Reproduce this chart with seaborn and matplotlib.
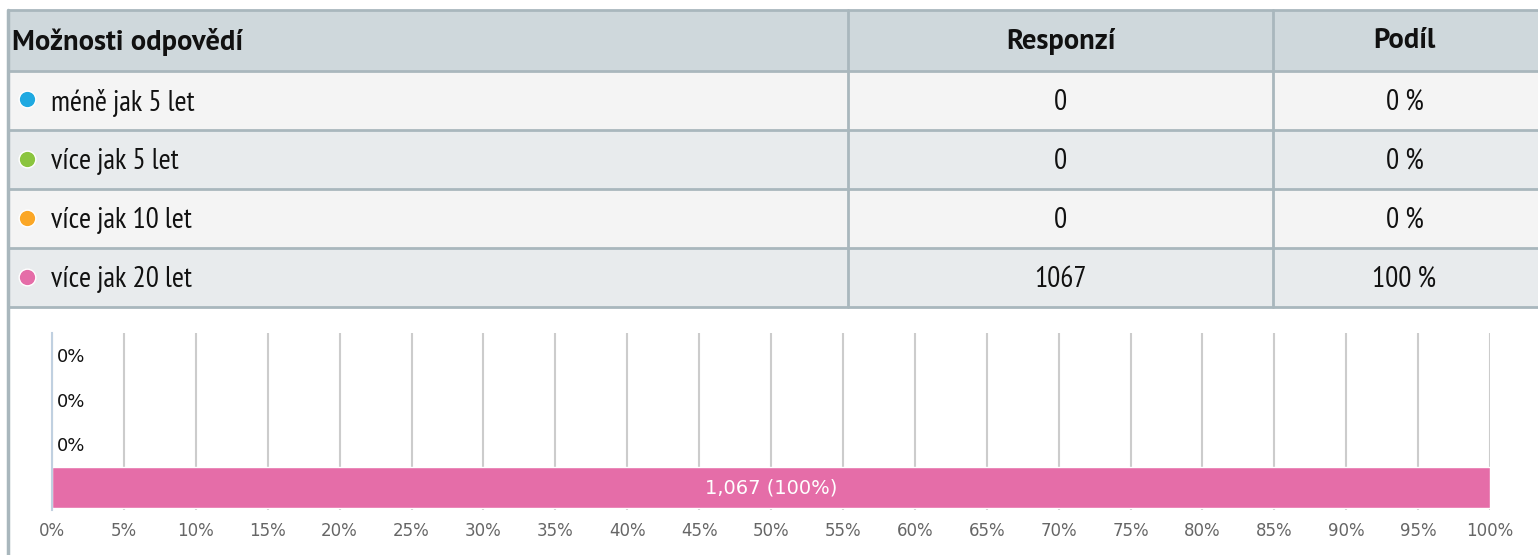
import matplotlib
matplotlib.use("Agg")
import matplotlib.pyplot as plt
import seaborn as sns
import pandas as pd
from matplotlib.patches import Rectangle

# =========================
# Data
# =========================
categories = ["méně jak 5 let", "více jak 5 let", "více jak 10 let", "více jak 20 let"]
responses = [0, 0, 0, 1067]
shares = [0, 0, 0, 100]
colors = ["#1fa9e1", "#8bc53f", "#fba726", "#e56da8"]
headers = ["Možnosti odpovědí", "Responzí", "Podíl"]
x_ticks = list(range(0, 101, 5))

df = pd.DataFrame({"category": categories, "responses": responses, "share": shares})

W, H = 1538, 555
sns.set_theme(style="white")
plt.rcParams["font.family"] = ["DejaVu Sans"]
TABLE_FONT = dict(family=["PT Sans Narrow", "DejaVu Sans"], fontstretch="condensed")
HEADER_FONT = dict(family=["PT Sans", "PT Sans Narrow", "DejaVu Sans"], fontweight="bold")

fig = plt.figure(figsize=(W / 100, H / 100), dpi=100)
fig.patch.set_facecolor("white")


def px(x, y):
    # pixel coords (top-left origin) -> figure fraction
    return x / W, 1 - y / H


# =========================
# Table
# =========================
border = "#a9b7bd"
col_edges = [8, 848, 1273, 1540]
row_edges = [10, 71, 130, 189, 248, 307]
row_fill = ["#cfd8dc", "#f4f4f4", "#e8ebed", "#f4f4f4", "#e8ebed"]

for i in range(5):
    y0, y1 = row_edges[i], row_edges[i + 1]
    fig.patches.append(Rectangle(px(col_edges[0], y1), (col_edges[-1] - col_edges[0]) / W,
                                 (y1 - y0) / H, transform=fig.transFigure,
                                 facecolor=row_fill[i], edgecolor="none", zorder=0))

for y in row_edges:
    fig.add_artist(plt.Line2D([col_edges[0] / W, 1], [1 - y / H] * 2,
                              transform=fig.transFigure, color=border, lw=2))
for x in col_edges[1:3]:
    fig.add_artist(plt.Line2D([x / W] * 2, [1 - row_edges[0] / H, 1 - row_edges[-1] / H],
                              transform=fig.transFigure, color=border, lw=2))
# outer left border runs down through the chart panel
fig.add_artist(plt.Line2D([col_edges[0] / W] * 2, [1 - row_edges[0] / H, 0],
                          transform=fig.transFigure, color=border, lw=2.5))

col2_x = (col_edges[1] + col_edges[2]) / 2
col3_x = (col_edges[2] + col_edges[3]) / 2 - 2

hy = (row_edges[0] + row_edges[1]) / 2 + 1
for hx, txt, ha in [(12, headers[0], "left"), (col2_x, headers[1], "center"),
                    (col3_x, headers[2], "center")]:
    fig.text(*px(hx, hy), txt, ha=ha, va="center", fontsize=20.5, color="#111111",
             **HEADER_FONT)

for i, (cat, n, s, c) in enumerate(zip(categories, responses, shares, colors)):
    cy = (row_edges[i + 1] + row_edges[i + 2]) / 2 + 2
    fig.add_artist(plt.Line2D([27 / W], [1 - (cy - 3) / H], marker="o", markersize=12,
                              markerfacecolor=c, markeredgecolor="white", markeredgewidth=1,
                              transform=fig.transFigure))
    fig.text(*px(51, cy), cat, ha="left", va="center", fontsize=21, color="#111111",
             **TABLE_FONT)
    fig.text(*px(col2_x, cy), str(n), ha="center", va="center", fontsize=21,
             color="#111111", **TABLE_FONT)
    fig.text(*px(col3_x, cy), f"{s} %", ha="center", va="center", fontsize=21,
             color="#111111", **TABLE_FONT)

# =========================
# Bar chart
# =========================
left, right, top, bottom = 52, 1490, 333, 510
ax = fig.add_axes([left / W, 1 - bottom / H, (right - left) / W, (bottom - top) / H])

sns.barplot(data=df, x="share", y="category", hue="category", palette=colors,
            saturation=1, legend=False, width=0.93, edgecolor="white", linewidth=1,
            ax=ax, zorder=3)

ax.set_xlim(0, 100)
ax.set_ylim(len(categories) - 0.5, -0.5)
ax.set_xticks(x_ticks)
ax.set_xticklabels([f"{t}%" for t in x_ticks], color="#666666", fontsize=12)
ax.tick_params(axis="x", length=4, color="#cccccc", pad=5)
ax.set_yticks([0, 2.5])
ax.set_yticklabels([])
ax.tick_params(axis="y", length=5, color="#c0d0e0", width=1)
ax.set_xlabel("")
ax.set_ylabel("")
ax.grid(axis="x", color="#cccccc", lw=1.5, zorder=0)
ax.set_axisbelow(True)
for side in ["top", "right", "bottom"]:
    ax.spines[side].set_visible(False)
ax.spines["left"].set_color("#c0d0e0")
ax.spines["left"].set_linewidth(1.5)
ax.spines["left"].set_zorder(4)

for i, (n, s) in enumerate(zip(responses, shares)):
    if n == 0:
        ax.text(0.35, i + 0.05, f"{s}%", ha="left", va="center", fontsize=13, color="#111111")
    else:
        ax.text(s / 2, i, f"{n:,} ({s}%)", ha="center", va="center", fontsize=14,
                color="white", zorder=5)

fig.savefig("out.png", dpi=100)
